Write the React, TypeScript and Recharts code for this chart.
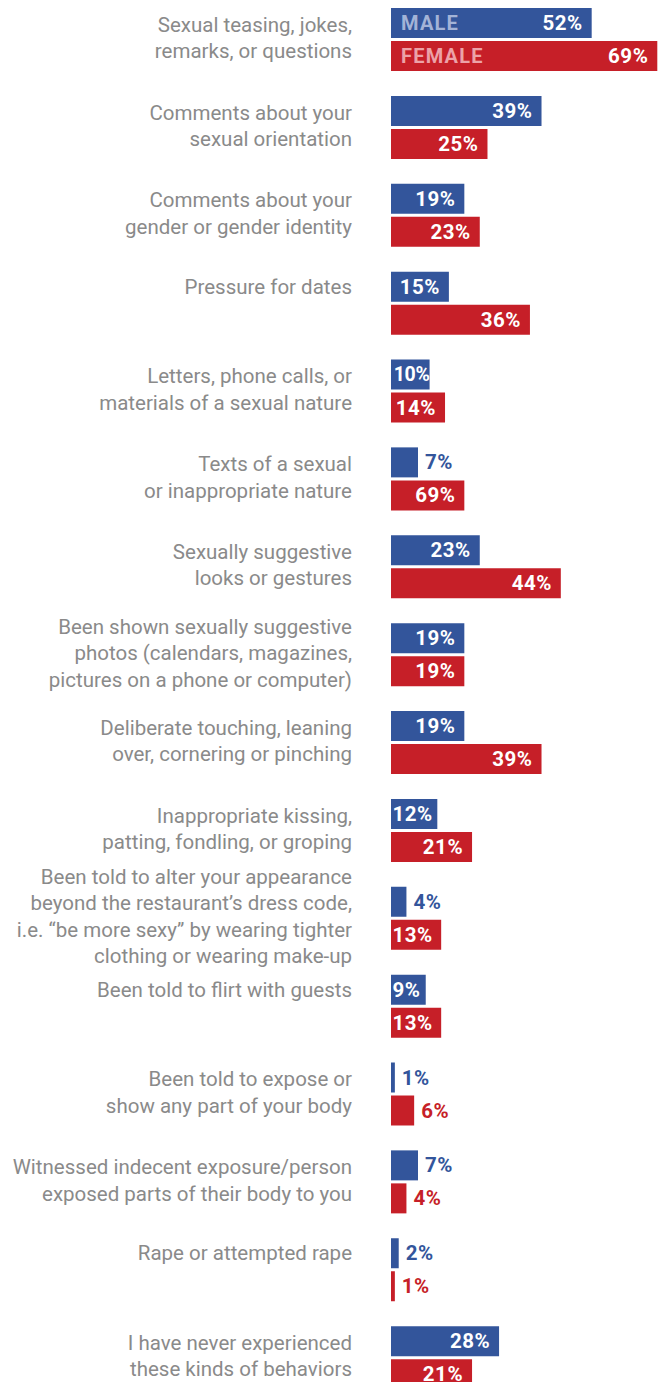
import React from "react";
import { BarChart, Bar, XAxis, YAxis, LabelList } from "recharts";

const categories = [
  "Sexual teasing, jokes,\nremarks, or questions",
  "Comments about your\nsexual orientation",
  "Comments about your\ngender or gender identity",
  "Pressure for dates",
  "Letters, phone calls, or\nmaterials of a sexual nature",
  "Texts of a sexual\nor inappropriate nature",
  "Sexually suggestive\nlooks or gestures",
  "Been shown sexually suggestive\nphotos (calendars, magazines,\npictures on a phone or computer)",
  "Deliberate touching, leaning\nover, cornering or pinching",
  "Inappropriate kissing,\npatting, fondling, or groping",
  "Been told to alter your appearance\nbeyond the restaurant\u2019s dress code,\ni.e. \u201cbe more sexy\u201d by wearing tighter\nclothing or wearing make-up",
  "Been told to flirt with guests",
  "Been told to expose or\nshow any part of your body",
  "Witnessed indecent exposure/person\nexposed parts of their body to you",
  "Rape or attempted rape",
  "I have never experienced\nthese kinds of behaviors",
];

const maleValues = [52, 39, 19, 15, 10, 7, 23, 19, 19, 12, 4, 9, 1, 7, 2, 28];
// the "Texts" female bar is drawn at ~19% in the source even though it is printed as 69%
const femaleValues = [69, 25, 23, 36, 14, 19, 44, 19, 39, 21, 13, 13, 6, 4, 1, 21];
const femalePrinted = ["69%", "25%", "23%", "36%", "14%", "69%", "44%", "19%", "39%", "21%", "13%", "13%", "6%", "4%", "1%", "21%"];

const BLUE = "#33559b";
const RED = "#c61f28";
const LABEL_FONT = "Roboto, 'Noto Sans', sans-serif";

const data = categories.map((label, i) => ({
  label,
  male: maleValues[i],
  female: femaleValues[i],
  maleText: `${maleValues[i]}%`,
  femaleText: femalePrinted[i],
}));

const CategoryTick = (props: any) => {
  const { y, payload } = props;
  const lines: string[] = String(payload.value).split("\n");
  const lh = 26.5;
  const first = lines.length === 1 ? y - 17 : y - 2 - ((lines.length - 1) * lh) / 2;
  return (
    <text x={352} y={first} textAnchor="end" fill="#8a8a8a" fontSize={20.5} fontFamily={LABEL_FONT}>
      {lines.map((l, i) => (
        <tspan key={i} x={352} y={first + i * lh} dominantBaseline="central">
          {l}
        </tspan>
      ))}
    </text>
  );
};

const makeValueLabel = (color: string, legend: string, legendColor: string) => (props: any) => {
  const { x, y, width, height, value, index } = props;
  const txt = String(value);
  // rough width of a bold label: digits ~11.8px, % ~15.5px, plus spacing
  const textW = (txt.length - 1) * 11.8 + 15.5 + txt.length * 0.5;
  const inside = width >= 33;
  const room = width - textW - 1;
  const pad = Math.max(0, Math.min(9, room));
  const cy = y + height / 2;
  return (
    <g>
      {index === 0 && (
        <text
          x={x + 10}
          y={cy}
          dominantBaseline="central"
          fill={legendColor}
          fontSize={20}
          fontWeight={700}
          letterSpacing={1.2}
          fontFamily={LABEL_FONT}
        >
          {legend}
        </text>
      )}
      <text
        x={inside ? x + width - pad : x + width + 7}
        y={cy}
        textAnchor={inside ? "end" : "start"}
        dominantBaseline="central"
        fill={inside ? "#ffffff" : color}
        fontSize={inside && room < 0 ? 19.5 : 20.5}
        fontWeight={700}
        letterSpacing={inside && room < 0 ? -0.3 : 0.5}
        fontFamily={LABEL_FONT}
      >
        {txt}
      </text>
    </g>
  );
};

export default function App() {
  return (
    <div
      style={{
        position: "absolute",
        left: 0,
        top: 0,
        width: 660,
        height: 1382,
        overflow: "hidden",
        background: "#ffffff",
      }}
    >
      <div style={{ position: "relative", top: -4 }}>
        <BarChart
          layout="vertical"
          width={660}
          height={1406}
          data={data}
          margin={{ top: 0, right: 0, bottom: 0, left: 0 }}
          barSize={30}
          barGap={3}
        >
          <XAxis type="number" domain={[0, 69.7]} hide />
          <YAxis
            type="category"
            dataKey="label"
            width={391}
            axisLine={false}
            tickLine={false}
            interval={0}
            tick={<CategoryTick />}
          />
          <Bar dataKey="male" fill={BLUE} isAnimationActive={false}>
            <LabelList dataKey="maleText" content={makeValueLabel(BLUE, "MALE", "#a3b3d7")} />
          </Bar>
          <Bar dataKey="female" fill={RED} isAnimationActive={false}>
            <LabelList dataKey="femaleText" content={makeValueLabel(RED, "FEMALE", "#eca2a8")} />
          </Bar>
        </BarChart>
      </div>
    </div>
  );
}
